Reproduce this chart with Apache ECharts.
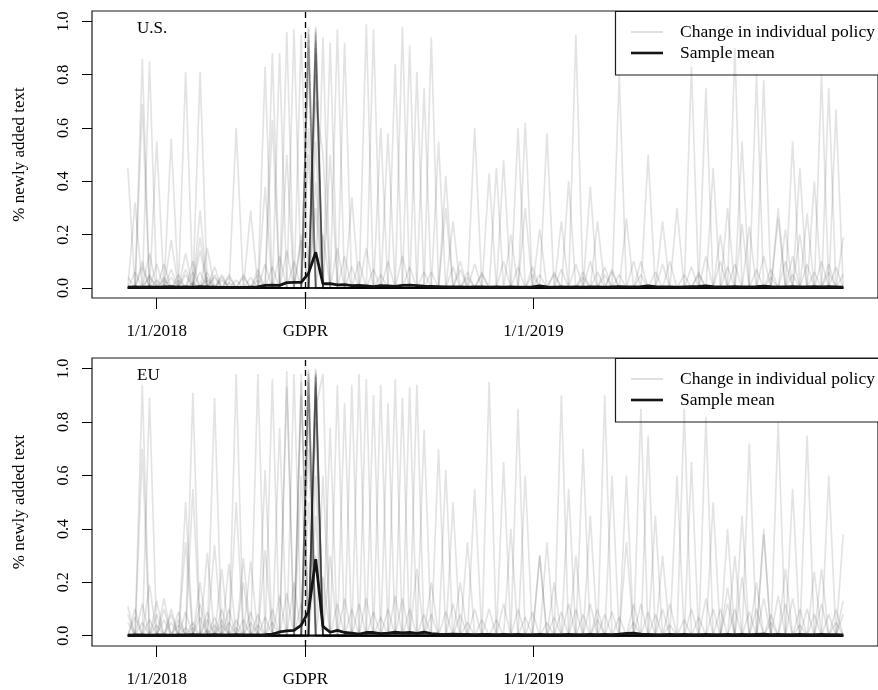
<!DOCTYPE html>
<html>
<head>
<meta charset="utf-8">
<script src="https://cdn.jsdelivr.net/npm/echarts@6/dist/echarts.min.js"></script>
<style>
  html, body { margin: 0; padding: 0; background: #fff; }
  #chart { width: 878px; height: 690px; }
</style>
</head>
<body>
<div id="chart"></div>
<script>
// Weekly snapshots of privacy policies, first week of Dec 2017 to end of Oct 2019.
// x positions are days counted from 1 Jan 2018.
const firstWeekDay = -28;
const weekCount = 100;

const tickDays = [0, 144, 365];
const tickLabels = ['1/1/2018', 'GDPR', '1/1/2019'];
const gdprDay = 144;
const yTicks = [0, 0.2, 0.4, 0.6, 0.8, 1.0];

const panelNames = ['U.S.', 'EU'];
const legendNames = ['Change in individual policy', 'Sample mean'];
const yName = '% newly added text';

// Sample mean of the share of newly added text, week by week
const usMean = [
  0.003,0.004,0.003,0.004,0.003,0.004,0.005,0.003,0.004,0.003,
  0.005,0.004,0.003,0.002,0.002,0.002,0.002,0.003,0.004,0.010,
  0.011,0.010,0.020,0.021,0.021,0.055,0.134,0.016,0.016,0.012,
  0.013,0.009,0.010,0.008,0.005,0.009,0.008,0.006,0.010,0.011,
  0.009,0.007,0.006,0.005,0.004,0.004,0.004,0.003,0.004,0.004,
  0.003,0.004,0.003,0.004,0.003,0.003,0.004,0.008,0.004,0.003,
  0.004,0.003,0.004,0.003,0.004,0.004,0.003,0.004,0.005,0.004,
  0.004,0.005,0.008,0.005,0.004,0.004,0.003,0.004,0.005,0.006,
  0.008,0.005,0.004,0.004,0.005,0.004,0.004,0.005,0.007,0.005,
  0.004,0.004,0.005,0.004,0.004,0.005,0.004,0.005,0.004,0.003
];
const euMean = [
  0.002,0.003,0.003,0.002,0.003,0.003,0.002,0.003,0.003,0.004,
  0.003,0.003,0.004,0.003,0.003,0.004,0.003,0.003,0.003,0.004,
  0.006,0.014,0.018,0.020,0.040,0.090,0.287,0.035,0.013,0.020,
  0.012,0.010,0.006,0.012,0.012,0.008,0.010,0.013,0.011,0.012,
  0.009,0.013,0.008,0.006,0.005,0.006,0.005,0.005,0.004,0.005,
  0.005,0.004,0.005,0.004,0.005,0.004,0.004,0.005,0.004,0.004,
  0.004,0.005,0.004,0.004,0.005,0.004,0.005,0.004,0.006,0.009,
  0.010,0.006,0.005,0.004,0.004,0.005,0.004,0.005,0.004,0.004,
  0.005,0.004,0.004,0.005,0.004,0.005,0.004,0.005,0.006,0.004,
  0.005,0.004,0.004,0.005,0.004,0.004,0.005,0.004,0.004,0.003
];

// Individual policies: weeks with a change as [week index, share of new text];
// every other week of a policy is unchanged (0).
const usPolicies = [
  [[0,0.45],[15,0.6],[33,0.99],[47,0.04],[62,0.95],[88,0.78]],
  [[1,0.32],[8,0.05],[19,0.83],[34,0.97],[64,0.38],[90,0.3]],
  [[2,0.86],[20,0.88],[26,0.98],[68,0.8],[92,0.55]],
  [[2,0.69],[11,0.04],[21,0.88],[26,0.97],[48,0.6],[95,0.4]],
  [[3,0.85],[22,0.96],[35,0.6],[72,0.5],[96,0.8]],
  [[4,0.55],[23,0.97],[36,0.58],[59,0.06],[78,0.83]],
  [[6,0.56],[24,0.95],[37,0.84],[80,0.75]],
  [[6,0.18],[25,0.98],[38,0.98],[66,0.05],[81,0.45]],
  [[8,0.81],[25,0.95],[39,0.91],[84,0.9]],
  [[3,0.04],[8,0.13],[26,0.95],[40,0.81],[85,0.55]],
  [[10,0.81],[26,0.93],[41,0.75],[87,0.8]],
  [[10,0.29],[25,0.9],[42,0.94],[97,0.75]],
  [[10,0.19],[26,0.9],[43,0.55],[98,0.67]],
  [[10,0.14],[27,0.94],[44,0.42],[93,0.45]],
  [[11,0.15],[28,0.92],[50,0.43],[83,0.3]],
  [[12,0.08],[29,0.97],[51,0.45],[74,0.25]],
  [[17,0.29],[30,0.92],[52,0.48],[76,0.3]],
  [[19,0.38],[25,0.85],[54,0.6],[91,0.22]],
  [[20,0.63],[26,0.88],[55,0.62],[94,0.28]],
  [[22,0.5],[26,0.8],[58,0.58],[86,0.23]],
  [[25,0.6],[31,0.34],[61,0.4],[99,0.19]],
  [[26,0.7],[27,0.5],[55,0.3],[90,0.26]],
  [[25,0.5],[44,0.3],[60,0.25],[85,0.24]],
  [[26,0.55],[45,0.25],[65,0.25],[93,0.2]],
  [[26,0.4],[53,0.2],[69,0.26],[82,0.2]],
  [[16,0.05],[28,0.5],[57,0.22],[97,0.09]],
  [[5,0.03],[25,0.97],[46,0.07],[71,0.05]],
  [[14,0.04],[26,0.96],[49,0.06],[89,0.04]],
  [[9,0.02],[25,0.93],[56,0.05],[79,0.06]],
  [[13,0.05],[26,0.92],[63,0.04],[92,0.05]],
  [[18,0.03],[24,0.2],[26,0.85],[67,0.06]],
  [[0,0.04],[5,0.09],[9,0.06],[14,0.05],[30,0.12],[47,0.06],[66,0.08],[79,0.05]],
  [[1,0.06],[7,0.05],[12,0.04],[18,0.07],[33,0.15],[49,0.05],[70,0.1],[89,0.07]],
  [[2,0.08],[6,0.04],[13,0.03],[21,0.12],[36,0.1],[56,0.08],[73,0.06],[92,0.12]],
  [[3,0.05],[8,0.07],[16,0.04],[24,0.18],[39,0.08],[59,0.05],[75,0.1],[94,0.09]],
  [[4,0.03],[9,0.1],[11,0.06],[27,0.2],[41,0.06],[62,0.09],[77,0.05],[96,0.1]],
  [[5,0.04],[10,0.06],[15,0.03],[29,0.15],[46,0.1],[63,0.06],[80,0.12],[98,0.08]],
  [[7,0.03],[12,0.05],[19,0.09],[31,0.08],[52,0.1],[67,0.07],[84,0.09],[99,0.05]],
  [[2,0.1],[13,0.04],[22,0.14],[34,0.07],[57,0.05],[71,0.1],[87,0.07]],
  [[6,0.07],[17,0.04],[23,0.1],[38,0.12],[54,0.08],[68,0.05],[83,0.08],[95,0.06]],
  [[11,0.03],[20,0.08],[35,0.05],[48,0.09],[64,0.1],[78,0.08],[91,0.1]],
  [[4,0.09],[14,0.02],[26,0.3],[42,0.06],[60,0.07],[74,0.09],[88,0.12]],
  [[3,0.13],[18,0.05],[32,0.1],[45,0.08],[65,0.06],[82,0.1],[97,0.06]]
];
const euPolicies = [
  [[0,0.11],[15,0.98],[32,0.98],[60,0.9],[90,0.8]],
  [[2,0.94],[18,0.98],[33,0.96],[66,0.9],[94,0.75]],
  [[2,0.7],[20,0.96],[26,1.0],[50,0.95],[97,0.6]],
  [[3,0.89],[21,0.78],[26,0.99],[54,0.85],[86,0.72]],
  [[3,0.19],[22,0.99],[34,0.9],[71,0.85],[99,0.38]],
  [[4,0.13],[22,0.93],[35,0.94],[77,0.85],[92,0.55]],
  [[5,0.14],[23,0.98],[36,0.87],[57,0.3],[80,0.82]],
  [[8,0.5],[24,0.95],[37,0.96],[72,0.75],[83,0.4]],
  [[8,0.35],[24,0.9],[38,0.89],[63,0.7],[85,0.45]],
  [[9,0.91],[25,1.0],[39,0.93],[52,0.65],[88,0.4]],
  [[9,0.55],[25,0.98],[40,0.94],[67,0.6],[81,0.5]],
  [[10,0.2],[25,0.95],[41,0.77],[69,0.6],[88,0.38]],
  [[10,0.12],[26,0.98],[43,0.7],[78,0.65],[96,0.25]],
  [[11,0.31],[26,0.97],[44,0.62],[76,0.6],[95,0.24]],
  [[12,0.89],[26,0.95],[45,0.5],[73,0.45],[90,0.15]],
  [[12,0.34],[26,0.93],[48,0.55],[61,0.55],[99,0.13]],
  [[13,0.25],[26,0.9],[47,0.35],[64,0.45],[85,0.22]],
  [[14,0.27],[25,0.9],[53,0.4],[58,0.35],[83,0.18]],
  [[15,0.5],[25,0.85],[55,0.6],[81,0.1]],
  [[16,0.29],[26,0.85],[27,0.98],[40,0.25]],
  [[16,0.2],[26,0.8],[28,0.78],[57,0.3]],
  [[17,0.28],[24,0.6],[29,0.94],[69,0.35]],
  [[19,0.62],[25,0.7],[30,0.87],[62,0.3]],
  [[19,0.32],[26,0.6],[31,0.94],[74,0.3]],
  [[7,0.06],[25,0.5],[27,0.6],[84,0.3]],
  [[6,0.05],[26,0.45],[46,0.2],[91,0.25]],
  [[26,0.3],[42,0.2],[59,0.2],[87,0.2]],
  [[8,0.03],[24,0.98],[26,0.97],[70,0.05]],
  [[13,0.04],[25,0.99],[51,0.06],[89,0.05]],
  [[15,0.03],[26,0.98],[58,0.05],[93,0.04]],
  [[20,0.05],[25,0.96],[65,0.06],[98,0.05]],
  [[11,0.02],[26,0.94],[47,0.05],[75,0.04]],
  [[0,0.05],[4,0.08],[9,0.05],[14,0.1],[29,0.12],[46,0.08],[65,0.1],[79,0.07],[93,0.1]],
  [[1,0.07],[6,0.1],[11,0.06],[18,0.08],[33,0.14],[49,0.06],[70,0.12],[89,0.08]],
  [[2,0.05],[7,0.04],[13,0.1],[21,0.15],[36,0.1],[56,0.09],[73,0.08],[92,0.14]],
  [[3,0.06],[8,0.09],[16,0.06],[23,0.2],[39,0.1],[59,0.07],[75,0.12],[94,0.1]],
  [[1,0.1],[10,0.07],[12,0.04],[27,0.22],[41,0.08],[62,0.1],[77,0.06],[96,0.12]],
  [[5,0.06],[11,0.09],[17,0.05],[30,0.14],[45,0.12],[63,0.08],[80,0.14],[98,0.1]],
  [[4,0.04],[13,0.06],[20,0.1],[31,0.1],[52,0.12],[67,0.09],[84,0.1],[97,0.08]],
  [[0,0.08],[14,0.05],[22,0.16],[34,0.09],[55,0.07],[71,0.12],[86,0.09]],
  [[6,0.08],[15,0.06],[24,0.12],[38,0.14],[54,0.1],[68,0.07],[82,0.1],[95,0.08]],
  [[7,0.09],[18,0.04],[35,0.07],[48,0.1],[64,0.12],[78,0.1],[91,0.12]],
  [[5,0.1],[12,0.07],[28,0.3],[42,0.08],[60,0.09],[74,0.1],[88,0.14]],
  [[2,0.12],[19,0.07],[32,0.12],[44,0.09],[66,0.08],[83,0.12],[99,0.08]],
  [[9,0.03],[17,0.09],[37,0.15],[50,0.1],[61,0.12],[72,0.09],[87,0.1]]
];

const FONT = '"Liberation Serif", "Times New Roman", Times, serif';

const weekDays = [];
for (let k = 0; k < weekCount; k++) weekDays.push(firstWeekDay + 7 * k);

function policySeriesData(changes) {
  const vals = new Array(weekCount).fill(0);
  changes.forEach(([k, v]) => { vals[k] = Math.max(vals[k], v); });
  return vals.map((v, k) => [weekDays[k], v]);
}
function meanSeriesData(means) {
  return means.map((v, k) => [weekDays[k], v]);
}

const panels = [
  { top: 11, height: 287, yMin: -0.0375, yMax: 1.039, mean: usMean, policies: usPolicies },
  { top: 358, height: 288, yMin: -0.0385, yMax: 1.04, mean: euMean, policies: euPolicies }
];

const grids = [], xAxes = [], yAxes = [], series = [], graphics = [];

panels.forEach((p, i) => {
  grids.push({
    left: 92, top: p.top, width: 801, height: p.height,
    show: true, borderColor: '#1a1a1a', borderWidth: 1.2, backgroundColor: 'transparent'
  });
  xAxes.push({
    type: 'value', gridIndex: i, min: -62.7, max: 698.7, position: 'bottom',
    axisLine: { show: false, onZero: false }, splitLine: { show: false },
    axisTick: { show: true, length: 11, customValues: tickDays, lineStyle: { color: '#000', width: 1 } },
    axisLabel: {
      customValues: tickDays, margin: 25,
      formatter: v => tickLabels[tickDays.indexOf(v)],
      fontFamily: FONT, fontSize: 17, color: '#000'
    }
  });
  yAxes.push({
    type: 'value', gridIndex: i, min: p.yMin, max: p.yMax, position: 'left',
    axisLine: { show: false, onZero: false }, splitLine: { show: false },
    axisTick: { show: true, length: 10, customValues: yTicks, lineStyle: { color: '#000', width: 1 } },
    axisLabel: {
      customValues: yTicks, rotate: 90, margin: 20,
      formatter: v => v.toFixed(1),
      fontFamily: FONT, fontSize: 16, color: '#000'
    },
    name: yName, nameLocation: 'middle', nameGap: 64, nameRotate: 90,
    nameTextStyle: { fontFamily: FONT, fontSize: 17, color: '#000' }
  });

  p.policies.forEach(changes => {
    series.push({
      type: 'line', xAxisIndex: i, yAxisIndex: i,
      data: policySeriesData(changes),
      symbol: 'none', silent: true, z: 2,
      lineStyle: { color: 'rgba(0,0,0,0.11)', width: 1.7 }
    });
  });

  series.push({
    type: 'line', xAxisIndex: i, yAxisIndex: i, name: legendNames[1],
    data: meanSeriesData(p.mean),
    symbol: 'none', silent: true, z: 5,
    lineStyle: { color: '#151515', width: 2.8 },
    markLine: {
      silent: true, symbol: ['none', 'none'], label: { show: false },
      lineStyle: { type: [6, 4], color: '#000', width: 1.3 },
      data: [{ xAxis: gdprDay }]
    }
  });

  // panel tag
  graphics.push({
    type: 'text', x: 137, y: p.top + 18, z: 50,
    style: { text: panelNames[i], fontFamily: FONT, fontSize: 17, fill: '#000', textVerticalAlign: 'middle' }
  });

  // legend box
  const ly = p.top;
  graphics.push({
    type: 'group', z: 60,
    children: [
      { type: 'rect', shape: { x: 615.5, y: ly + 0.5, width: 320, height: 63.5 },
        style: { fill: '#fff', stroke: '#1a1a1a', lineWidth: 1.2 } },
      { type: 'line', shape: { x1: 631, y1: ly + 21, x2: 663, y2: ly + 21 },
        style: { stroke: '#cfcfcf', lineWidth: 1.3 } },
      { type: 'line', shape: { x1: 631, y1: ly + 42, x2: 663, y2: ly + 42 },
        style: { stroke: '#151515', lineWidth: 2.6 } },
      { type: 'text', x: 680, y: ly + 21,
        style: { text: legendNames[0], fontFamily: FONT, fontSize: 17.5, fill: '#000', textVerticalAlign: 'middle' } },
      { type: 'text', x: 680, y: ly + 42,
        style: { text: legendNames[1], fontFamily: FONT, fontSize: 17.5, fill: '#000', textVerticalAlign: 'middle' } }
    ]
  });
});

const chart = echarts.init(document.getElementById('chart'), null, { renderer: 'canvas' });
chart.setOption({
  animation: false,
  backgroundColor: '#fff',
  grid: grids,
  xAxis: xAxes,
  yAxis: yAxes,
  series: series,
  graphic: graphics
});
</script>
</body>
</html>
